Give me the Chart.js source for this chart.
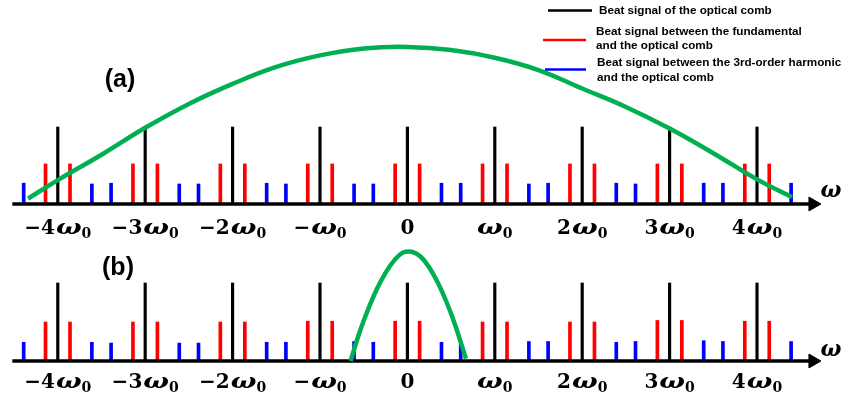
<!DOCTYPE html>
<html lang="en">
<head>
<meta charset="UTF-8">
<title>Beat signals of the optical comb</title>
<script src="https://cdn.jsdelivr.net/npm/chart.js"></script>
<style>
    body { margin: 0; background: #fff; }
    .panel { position: absolute; left: 0; }
    canvas { display: block; }
</style>
</head>
<body>
<div class="panel" style="top:0"><canvas id="chartA" width="848" height="240"></canvas></div>
<div class="panel" style="top:240px"><canvas id="chartB" width="848" height="161"></canvas></div>

<script>
// frequencies in units of omega_0
const combLines = [-4, -3, -2, -1, 0, 1, 2, 3, 4];
const fundamentalLines = [-4.14, -3.86, -3.14, -2.86, -2.14, -1.86, -1.14, -0.86, -0.14,
    0.14, 0.86, 1.14, 1.86, 2.14, 2.86, 3.14, 3.86, 4.14];
const harmonicLines = [-4.39, -3.61, -3.39, -2.61, -2.39, -1.61, -1.39, -0.61, -0.39,
    0.39, 0.61, 1.39, 1.61, 2.39, 2.61, 3.39, 3.61, 4.39];

const tickValues = [-4, -3, -2, -1, 0, 1, 2, 3, 4];
const tickLabels = ['−4ω0', '−3ω0', '−2ω0', '−ω0', '0', 'ω0', '2ω0', '3ω0', '4ω0'];

// relative line heights (comb line = 1)
const combHeightsA = [1, 1, 1, 1, 1, 1, 1, 1, 1];
const fundHeightsA = [0.52, 0.52, 0.52, 0.52, 0.52, 0.52, 0.52, 0.52, 0.52,
    0.52, 0.52, 0.52, 0.52, 0.52, 0.52, 0.52, 0.52, 0.52];
const harmHeightsA = [0.27, 0.26, 0.27, 0.26, 0.26, 0.27, 0.26, 0.26, 0.26,
    0.27, 0.27, 0.26, 0.27, 0.27, 0.26, 0.27, 0.27, 0.27];

const combHeightsB = [1, 1, 1, 1, 1, 1, 1, 1, 1];
const fundHeightsB = [0.5, 0.5, 0.5, 0.5, 0.5, 0.5, 0.51, 0.51, 0.51,
    0.51, 0.5, 0.5, 0.5, 0.5, 0.52, 0.52, 0.51, 0.51];
const harmHeightsB = [0.24, 0.24, 0.23, 0.23, 0.23, 0.24, 0.24, 0.25, 0.24,
    0.24, 0.24, 0.25, 0.25, 0.24, 0.25, 0.26, 0.25, 0.25];

// spectral envelopes (green)
const envelopeAx = [-4.34, -4, -3.5, -3, -2.5, -2, -1.5, -1, -0.5, 0, 0.5, 1, 1.5, 2, 2.5, 3, 3.5, 4, 4.4];
const envelopeAy = [0.07, 0.31, 0.64, 0.99, 1.3, 1.56, 1.78, 1.93, 2.02, 2.04, 2.0, 1.9, 1.74, 1.5, 1.26, 0.98, 0.66, 0.32, 0.09];

const envelopeBx = [-0.65, -0.55, -0.45, -0.35, -0.25, -0.15, -0.05, 0.05, 0.15, 0.25, 0.35, 0.45, 0.55, 0.67];
const envelopeBy = [0, 0.36, 0.66, 0.92, 1.13, 1.29, 1.39, 1.4, 1.34, 1.2, 1.0, 0.75, 0.45, 0.03];

const axisStart = -4.52;
const axisArrow = 4.64;

const legendItems = [
    { color: '#000000', lines: ['Beat signal of the optical comb'] },
    { color: '#ff0000', lines: ['Beat signal between the fundamental', 'and the optical comb'] },
    { color: '#0000ff', lines: ['Beat signal between the 3rd-order harmonic', 'and the optical comb'] }
];

const GREEN = '#00b050';
const SERIF = '"DejaVu Serif", serif';

function points(xs, ys) {
    return xs.map((x, i) => ({ x: x, y: ys[i] }));
}

function bars(xs, hs, color, width) {
    return {
        type: 'bar',
        data: points(xs, hs),
        backgroundColor: color,
        borderWidth: 0,
        barThickness: width,
        grouped: false
    };
}

function drawTickLabels(chart, offset) {
    const ctx = chart.ctx;
    const xs = chart.scales.x;
    const base = chart.scales.y.getPixelForValue(0) + offset;
    ctx.save();
    ctx.fillStyle = '#000';
    ctx.textBaseline = 'alphabetic';
    tickValues.forEach((v, i) => {
        const label = tickLabels[i];
        const hasOmega = label.indexOf('ω') >= 0;
        const coef = hasOmega ? label.slice(0, label.indexOf('ω')) : label;
        ctx.font = 'bold 20px ' + SERIF;
        const wCoef = ctx.measureText(coef).width;
        let wOm = 0, wSub = 0;
        if (hasOmega) {
            ctx.font = 'bold italic 20px ' + SERIF;
            wOm = ctx.measureText('ω').width * 1.35;
            ctx.font = 'bold 14px ' + SERIF;
            wSub = ctx.measureText('0').width;
        }
        const gap = coef && hasOmega ? 1 : 0;
        let x = xs.getPixelForValue(v) - (wCoef + gap + wOm + wSub) / 2;
        ctx.font = 'bold 20px ' + SERIF;
        ctx.fillText(coef, x, base);
        x += wCoef + gap;
        if (hasOmega) {
            ctx.save();
            ctx.translate(x, base);
            ctx.scale(1.35, 1);
            ctx.font = 'bold italic 20px ' + SERIF;
            ctx.fillText('ω', 0, 0);
            ctx.restore();
            x += wOm;
            ctx.font = 'bold 14px ' + SERIF;
            ctx.fillText('0', x, base + 4);
        }
    });
    ctx.restore();
}

function drawOmega(chart, dy) {
    const ctx = chart.ctx;
    ctx.save();
    ctx.font = 'bold italic 22px ' + SERIF;
    ctx.fillStyle = '#000';
    ctx.textAlign = 'center';
    ctx.textBaseline = 'middle';
    ctx.fillText('ω', chart.scales.x.getPixelForValue(axisArrow) + 18, chart.scales.y.getPixelForValue(0) + dy);
    ctx.restore();
}

function drawPanelTag(chart, text, x, y) {
    const ctx = chart.ctx;
    ctx.save();
    ctx.font = 'bold 25px "Liberation Sans", Arial, sans-serif';
    ctx.fillStyle = '#000';
    ctx.textAlign = 'center';
    ctx.textBaseline = 'middle';
    ctx.fillText(text, x, y);
    ctx.restore();
}

function drawLegend(chart) {
    const ctx = chart.ctx;
    const swatchY = [10.5, 40, 69.5];
    const swatchX = [[548, 592], [543, 586], [545, 586]];
    const textX = [599, 596, 597];
    const baselines = [[14], [35, 49], [66, 81]];
    ctx.save();
    ctx.font = 'bold 11.7px "Liberation Sans", Arial, sans-serif';
    ctx.textBaseline = 'alphabetic';
    legendItems.forEach((item, i) => {
        ctx.strokeStyle = item.color;
        ctx.lineWidth = 2.6;
        ctx.beginPath();
        ctx.moveTo(swatchX[i][0], swatchY[i]);
        ctx.lineTo(swatchX[i][1], swatchY[i]);
        ctx.stroke();
        ctx.fillStyle = '#000';
        item.lines.forEach((t, j) => ctx.fillText(t, textX[i], baselines[i][j]));
    });
    ctx.restore();
}

function makeChart(id, cfg) {
    return new Chart(document.getElementById(id), {
        type: 'line',
        data: {
            datasets: [
                {
                    data: points(cfg.envX, cfg.envY),
                    borderColor: GREEN,
                    borderWidth: 4.5,
                    tension: 0.4,
                    pointRadius: 0,
                    fill: false
                },
                {
                    data: [{ x: axisStart, y: 0 }, { x: axisArrow, y: 0 }],
                    borderColor: '#000',
                    borderWidth: 3.5,
                    pointRadius: [0, 8],
                    pointStyle: 'triangle',
                    rotation: 90,
                    pointBackgroundColor: '#000',
                    pointBorderColor: '#000',
                    pointBorderWidth: 1
                },
                bars(combLines, cfg.comb, '#000000', 2.5),
                bars(fundamentalLines, cfg.fund, '#ff0000', 3),
                bars(harmonicLines, cfg.harm, '#0000ff', 3)
            ]
        },
        options: {
            responsive: false,
            devicePixelRatio: 1,
            animation: false,
            layout: { padding: 0, autoPadding: false },
            plugins: { legend: { display: false }, tooltip: { enabled: false } },
            scales: {
                x: { type: 'linear', display: false, offset: false, grid: { offset: false }, min: -4.661, max: 5.041 },
                y: { type: 'linear', display: false, min: cfg.yMin, max: cfg.yMax }
            }
        },
        plugins: [{
            id: 'annotations' + id,
            afterDraw: cfg.afterDraw
        }]
    });
}

makeChart('chartA', {
    envX: envelopeAx, envY: envelopeAy,
    comb: combHeightsA, fund: fundHeightsA, harm: harmHeightsA,
    yMin: -36 / 77, yMax: 204 / 77,
    afterDraw: chart => {
        drawTickLabels(chart, 30);
        drawOmega(chart, -13);
        drawPanelTag(chart, '(a)', 120, 80);
        drawLegend(chart);
    }
});

makeChart('chartB', {
    envX: envelopeBx, envY: envelopeBy,
    comb: combHeightsB, fund: fundHeightsB, harm: harmHeightsB,
    yMin: -40 / 78, yMax: 121 / 78,
    afterDraw: chart => {
        drawTickLabels(chart, 27);
        drawOmega(chart, -11);
        drawPanelTag(chart, '(b)', 118, 28);
    }
});
</script>
</body>
</html>
